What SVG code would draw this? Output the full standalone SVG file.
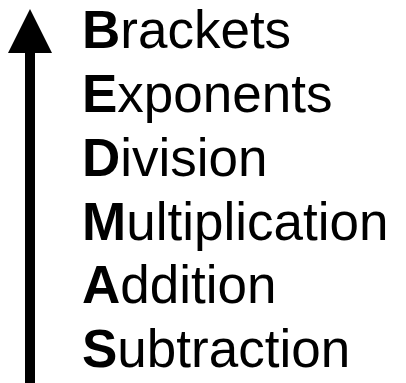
<svg xmlns="http://www.w3.org/2000/svg" width="406" height="383" viewBox="0 0 406 383">
<style>
text{font-family:"Liberation Sans",Arial,Helvetica,sans-serif;font-size:53px;fill:#000}
.b{font-weight:bold}
</style>
<rect width="406" height="383" fill="#fff"/>
<g id="connectors">
<rect x="25" y="50" width="10" height="333" fill="#000"/>
<polygon points="30,9 52,53 8,53" fill="#000"/>
</g>
<g id="brackets"><text x="82" y="48"><tspan class="b">B</tspan>rackets</text></g>
<g id="exponents"><text x="82" y="112"><tspan class="b">E</tspan>xponents</text></g>
<g id="division"><text x="82" y="176"><tspan class="b">D</tspan>ivision</text></g>
<g id="multiplication"><text x="82" y="240"><tspan class="b">M</tspan>ultiplication</text></g>
<g id="addition"><text x="82" y="303"><tspan class="b">A</tspan>ddition</text></g>
<g id="subtraction"><text x="82" y="367"><tspan class="b">S</tspan>ubtraction</text></g>
</svg>
